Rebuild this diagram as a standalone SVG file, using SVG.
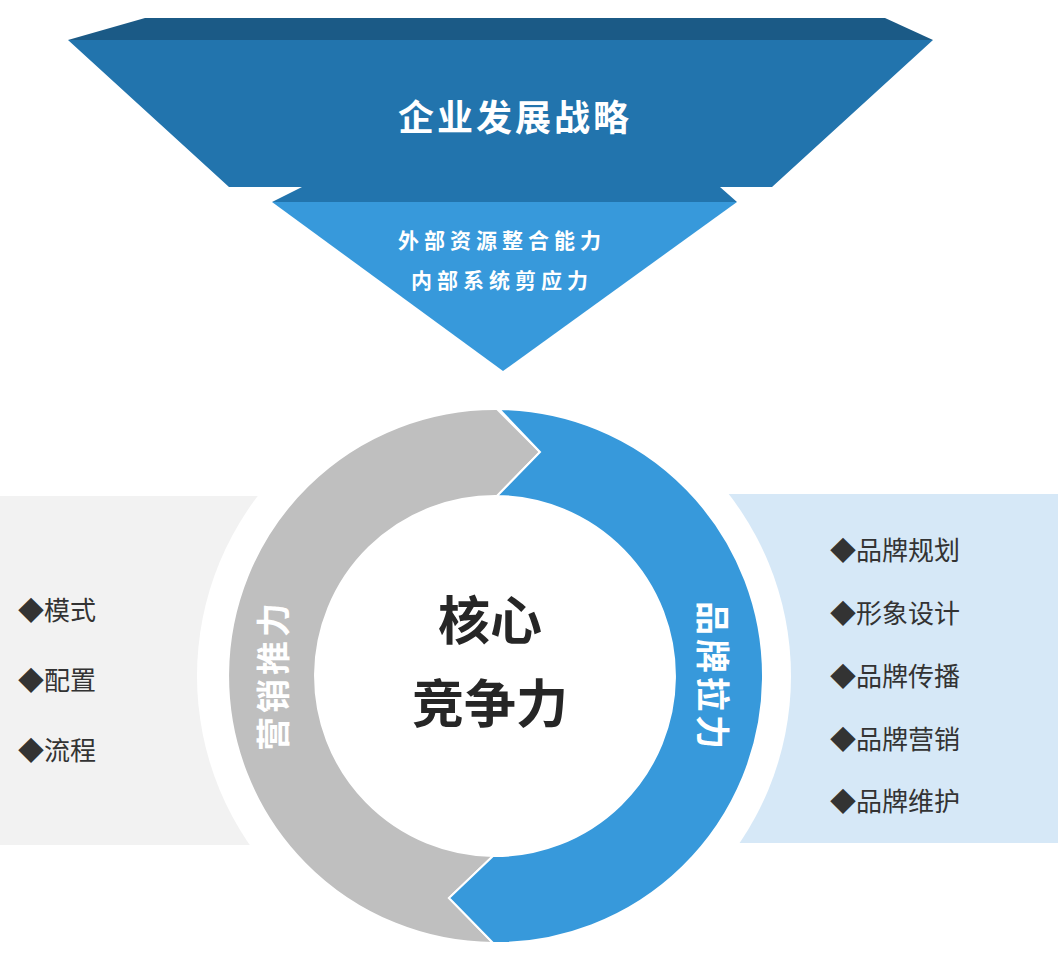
<svg xmlns="http://www.w3.org/2000/svg" width="1058" height="973" viewBox="0 0 1058 973">
<style>
.b{font-family:"Noto Sans CJK SC","Noto Sans",sans-serif;font-weight:bold;fill:#fff;text-anchor:middle}
.l{font-family:"Noto Sans CJK SC","Noto Sans",sans-serif;font-size:26px;fill:#333}
.c{font-family:"Noto Sans CJK SC","Noto Sans",sans-serif;font-weight:bold;fill:#262626;text-anchor:middle;font-size:52px}
</style>
<rect width="1058" height="973" fill="#fff"/>
<g id="funnel">
<polygon points="145,18 885,18 933,40 68,40" fill="#1b5a86"/>
<polygon points="68,40 933,40 772,187 720,187 737,202 272,202 302,187 229,187" fill="#2274ad"/>
<polygon points="272,202 737,202 503,371" fill="#3799db"/>
<text class="b" x="515" y="131" font-size="36" letter-spacing="3">企业发展战略</text>
<text class="b" x="502" y="248" font-size="21" letter-spacing="5">外部资源整合能力</text>
<text class="b" x="502" y="288" font-size="21" letter-spacing="5">内部系统剪应力</text>
</g>
<g id="panels">
<rect x="0" y="496" width="320" height="349" fill="#f2f2f2"/>
<rect x="690" y="494" width="368" height="349" fill="#d6e8f7"/>
<circle cx="494" cy="676" r="297" fill="#fff"/>
</g>
<g id="ring" stroke="#fff" stroke-width="2" stroke-linejoin="miter">
<path d="M493,943 A267,267 0 0 1 497,409 L540,452 L497,496 A180,180 0 0 0 493,856 L449,898 Z" fill="#bfbfbf"/>
<path d="M499,409 A267,267 0 0 1 493,943 L449,898 L493,856 A180,180 0 0 0 497,496 L540,452 Z" fill="#3799db"/>
</g>
<g id="center">
<text class="c" x="490" y="640">核心</text>
<text class="c" x="490" y="723">竞争力</text>
</g>
<g id="labels">
<text class="b" font-size="34" letter-spacing="4" transform="translate(286,675) rotate(-90)">营销推力</text>
<text class="b" font-size="34" letter-spacing="4" transform="translate(700,677) rotate(90)">品牌拉力</text>
</g>
<g id="left-list">
<text class="l" x="18" y="620">◆模式</text>
<text class="l" x="18" y="690">◆配置</text>
<text class="l" x="18" y="760">◆流程</text>
</g>
<g id="right-list">
<text class="l" x="830" y="560">◆品牌规划</text>
<text class="l" x="830" y="623">◆形象设计</text>
<text class="l" x="830" y="686">◆品牌传播</text>
<text class="l" x="830" y="749">◆品牌营销</text>
<text class="l" x="830" y="811">◆品牌维护</text>
</g>
</svg>
